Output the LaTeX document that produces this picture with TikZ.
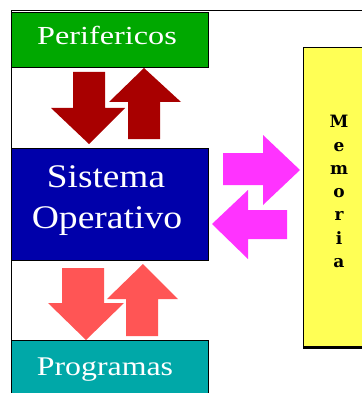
\documentclass[tikz,border=0pt]{standalone}
\usepackage{fontspec}
\setmainfont{Liberation Serif}
\newfontfamily\slabfont{DejaVu Serif}
\definecolor{perigreen}{HTML}{00A800}
\definecolor{sysblue}{HTML}{0000AA}
\definecolor{progteal}{HTML}{00A8A8}
\definecolor{darkred}{HTML}{A80000}
\definecolor{lightred}{HTML}{FF5555}
\definecolor{magentaarrow}{HTML}{FF33FF}
\definecolor{memyellow}{HTML}{FFFF55}
\begin{document}
\begin{tikzpicture}[x=1pt,y=-1pt,
  block/.style={draw=black, line width=1pt, inner sep=0pt, anchor=north west},
  label/.style={text=white, anchor=base, inner sep=0pt},
  memletter/.style={anchor=base, inner sep=0pt, font=\slabfont\bfseries\fontsize{17}{17}\selectfont}]
\useasboundingbox (0,0) rectangle (361,393);
\fill[white] (0,0) rectangle (361,393);

% outer frame
\draw[line width=1pt] (11,400) |- (370,11);

% blocks
\node[block, fill=perigreen, minimum width=197pt, minimum height=55pt] (perif) at (11,12) {};
\node[block, fill=sysblue, minimum width=197pt, minimum height=112pt] (sys) at (11,148) {};
\node[block, fill=progteal, minimum width=197pt, minimum height=60pt] (prog) at (11,340) {};
\node[block, fill=memyellow, minimum width=70pt, minimum height=300pt] (mem) at (303,47) {};
\draw[line width=3pt] (303,347) -- (370,347);

% block texts
\node[label, font=\fontsize{26}{26}\selectfont] (periftext) at (107,45) {\scalebox{1.24}[1]{Perifericos}};
\node[label, font=\fontsize{33}{33}\selectfont] (systext1) at (106,187) {\scalebox{1.13}[1]{Sistema}};
\node[label, font=\fontsize{33}{33}\selectfont] (systext2) at (107,228) {\scalebox{1.14}[1]{Operativo}};
\node[label, font=\fontsize{27}{27}\selectfont] (progtext) at (105,375) {\scalebox{1.18}[1]{Programas}};

% vertical label of the memory block
\foreach \ch [count=\i from 0] in {M,e,m,o,r,i,a}
  \node[memletter] (mem\i) at (339,128+23.2*\i) {\ch};

% arrows between peripherals and the system
\fill[darkred] (73,72) -- (105,72) -- (105,108) -- (125,108) -- (89,144)
  -- (51,108) -- (73,108) -- cycle;
\fill[darkred] (144,68) -- (181,102) -- (160,102) -- (160,139) -- (128,139)
  -- (128,102) -- (109,102) -- cycle;

% arrows between the system and the programs
\fill[lightred] (62,268) -- (104,268) -- (104,303) -- (124,303) -- (86,340)
  -- (48,303) -- (62,303) -- cycle;
\fill[lightred] (143,264) -- (178,299) -- (158,299) -- (158,336) -- (126,336)
  -- (126,299) -- (107,299) -- cycle;

% arrows between the system and the memory
\fill[magentaarrow] (223,153) -- (263,153) -- (263,135) -- (300,170) -- (263,205)
  -- (263,185) -- (223,185) -- cycle;
\fill[magentaarrow] (212,224) -- (248,190) -- (248,210) -- (287,210) -- (287,239)
  -- (248,239) -- (248,259) -- cycle;
\end{tikzpicture}
\end{document}
